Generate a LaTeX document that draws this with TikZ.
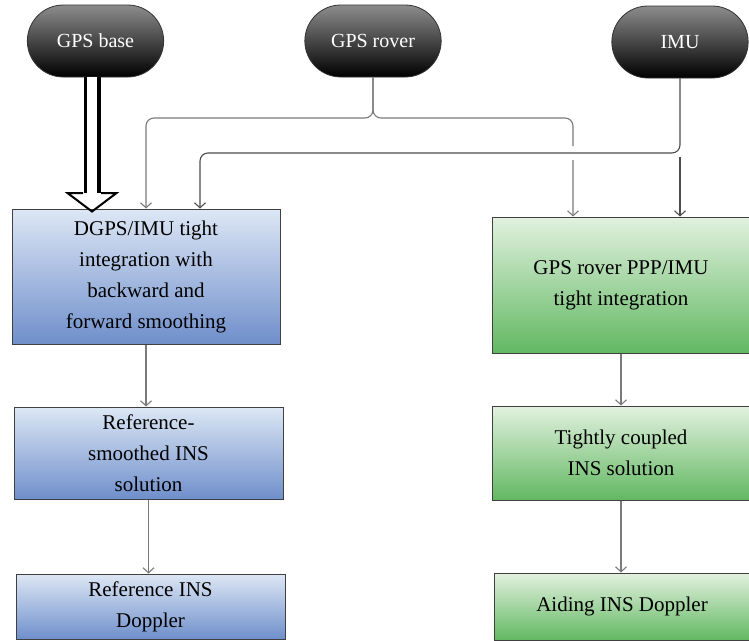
\documentclass[tikz,border=0pt]{standalone}
\usepackage{fontspec}
\setmainfont{Liberation Serif}
\usetikzlibrary{arrows.meta, shapes.misc, calc, positioning}

\definecolor{refTop}{HTML}{DDE7F5}
\definecolor{refBot}{HTML}{6F8FCB}
\definecolor{pppTop}{HTML}{E2F1DF}
\definecolor{pppBot}{HTML}{62B862}
\definecolor{linkgray}{HTML}{7A7A7A}

\begin{document}
\begin{tikzpicture}[
            x = 1pt, y = -1pt, % pixel units, y downwards
            source/.style={rounded rectangle, draw=black!80, line width=0.8pt, top color=black!45, bottom color=black, text=white, minimum width=143pt, minimum height=72pt, font=\fontsize{20}{24}\selectfont},
            procbox/.style={rectangle, draw=black!75, line width=1pt, align=center, inner sep=0pt, font=\fontsize{21}{31}\selectfont},
            refbox/.style={procbox, top color=refTop, bottom color=refBot},
            pppbox/.style={procbox, top color=pppTop, bottom color=pppBot},
            link/.style={draw=linkgray, line width=1.1pt, rounded corners=8pt, -{Straight Barb[length=5pt,width=11pt]}},
            darklink/.style={link, draw=black!70}
        ]

        \useasboundingbox (0,0) rectangle (749,640);

        % Sources
        \node[source] (base) at (95.5,41) {GPS base};
        \node[source] (rover) at (373,41) {GPS rover};
        \node[source] (imu) at (680,42) {IMU};

        % Reference chain (left)
        \node[refbox, minimum width=268pt, minimum height=135pt] (dgps) at (146,276.5) {DGPS/IMU tight\\integration with\\backward and\\forward smoothing};
        \node[refbox, minimum width=269pt, minimum height=92pt] (smooth) at (148.5,453) {Reference-\\smoothed INS\\solution};
        \node[refbox, minimum width=269pt, minimum height=65pt] (refdop) at (150.5,606.5) {Reference INS\\Doppler};

        % PPP chain (right)
        \node[pppbox, minimum width=258pt, minimum height=136pt] (ppp) at (621,285) {GPS rover PPP/IMU\\tight integration};
        \node[pppbox, minimum width=258pt, minimum height=94pt] (tcins) at (621,453) {Tightly coupled\\INS solution};
        \node[pppbox, minimum width=256pt, minimum height=67pt] (aiddop) at (622,606.5) {Aiding INS Doppler};

        % Base station: fat hollow arrow
        \coordinate (fattop) at (92,193);
        \draw[line width=3.5pt, double, double distance=10pt] (base.south -| fattop) -- (fattop);
        \draw[line width=2pt, line join=miter] ($(fattop)+(-9,0)$) -- ($(fattop)+(-24.5,0)$) -- ($(fattop |- dgps.north)+(0,3)$) -- ($(fattop)+(24.5,0)$) -- ($(fattop)+(9,0)$);

        % Rover connections
        \coordinate (rsplit) at (373,118);
        \coordinate (rdrop) at (573,146);
        \draw[link] (rover.south) |- (rsplit -| dgps.north) -- (dgps.north);
        \draw[link] (rover.south) |- (rsplit -| rdrop) -- (rdrop) ($(rdrop)+(0,14)$) -- (rdrop |- ppp.north);

        % IMU connections
        \coordinate (idrop) at (200,153);
        \draw[darklink] (imu.south) |- (idrop) -- (idrop |- dgps.north);
        \draw[darklink] ($(imu.south |- idrop)+(0,4)$) -- (imu.south |- ppp.north);

        % Down the chains
        \draw[link] (dgps.south) -- (dgps.south |- smooth.north);
        \draw[link] (smooth.south) -- (smooth.south |- refdop.north);
        \draw[link] (ppp.south) -- (ppp.south |- tcins.north);
        \draw[link] (tcins.south) -- (tcins.south |- aiddop.north);

    \end{tikzpicture}
\end{document}
